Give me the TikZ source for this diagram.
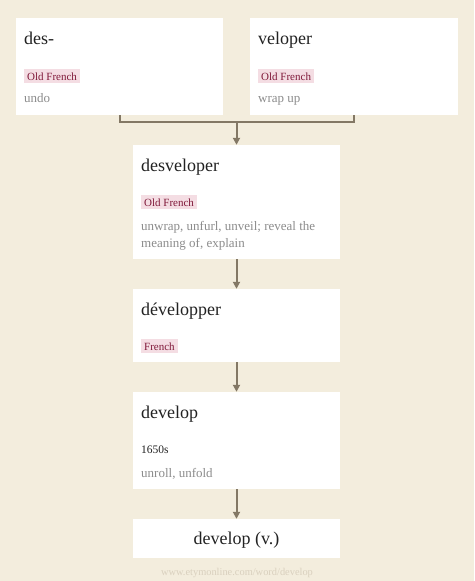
\documentclass[tikz,border=0pt]{standalone}
\usepackage{fontspec}
\setmainfont{Liberation Serif}
\usetikzlibrary{arrows.meta}
\definecolor{bg}{HTML}{F3EDDD}
\definecolor{linec}{HTML}{837865}
\definecolor{tagbg}{HTML}{F4DDE3}
\definecolor{tagfg}{HTML}{80193A}
\definecolor{gloss}{HTML}{8C8C8C}
\definecolor{titlec}{HTML}{222222}
\definecolor{urlc}{HTML}{D9D0BE}
\tikzset{
  box/.style={draw=none, fill=white, inner sep=0pt, anchor=center},
  ttl/.style={anchor=base west, inner sep=0pt, font=\fontsize{18}{20}\selectfont, text=titlec},
  tag/.style={anchor=base west, fill=tagbg, text=tagfg, inner xsep=3pt, inner ysep=0pt, text height=11pt, text depth=3pt, font=\fontsize{11}{13}\selectfont},
  gls/.style={anchor=base west, inner sep=0pt, text=gloss, font=\fontsize{13}{17}\selectfont},
  date/.style={anchor=base west, inner sep=0pt, text=titlec, font=\fontsize{11.5}{13}\selectfont},
  conn/.style={draw=linec, line width=2pt},
  arr/.style={conn, -{Triangle[length=7pt, width=7pt]}}
}
\begin{document}
\begin{tikzpicture}[x=1pt, y=-1pt]
\fill[bg] (0,0) rectangle (474,581);
\useasboundingbox (0,0) rectangle (474,581);
% boxes
\node[box, minimum width=207pt, minimum height=97pt] (des) at (119.5,66.5) {};
\node[box, minimum width=208pt, minimum height=97pt] (vel) at (354,66.5) {};
\node[box, minimum width=207pt, minimum height=114pt] (desv) at (236.5,202) {};
\node[box, minimum width=207pt, minimum height=73pt] (devf) at (236.5,325.5) {};
\node[box, minimum width=207pt, minimum height=97pt] (deve) at (236.5,440.5) {};
\node[box, minimum width=207pt, minimum height=39pt] (final) at (236.5,538.5) {};
% texts
\node[ttl] (t1) at (24,44) {des-};
\node[tag] (g1) at (24,80) {Old French};
\node[gls] (d1) at (24,102) {undo};
\node[ttl] (t2) at (258,44) {veloper};
\node[tag] (g2) at (258,80) {Old French};
\node[gls] (d2) at (258,102) {wrap up};
\node[ttl] (t3) at (141,171) {desveloper};
\node[tag] (g3) at (141,206) {Old French};
\node[gls] (d3a) at (141,230) {unwrap, unfurl, unveil; reveal the};
\node[gls] (d3b) at (141,247) {meaning of, explain};
\node[ttl] (t4) at (141,315) {développer};
\node[tag] (g4) at (141,350) {French};
\node[ttl] (t5) at (141,418) {develop};
\node[date] (y5) at (141,453) {1650s};
\node[gls] (d5) at (141,477) {unroll, unfold};
\node[anchor=base, inner sep=0pt, font=\fontsize{18}{20}\selectfont, text=titlec] (t6) at (236.5,544) {develop (v.)};
\node[anchor=base, inner sep=0pt, font=\fontsize{10.4}{12}\selectfont, text=urlc] (url) at (237,575) {www.etymonline.com/word/develop};
% connectors
\coordinate (j) at (236.5,122);
\draw[conn] (des.south) |- (j) -| (vel.south);
\draw[arr] (j) -- (desv.north);
\draw[arr] (desv.south) -- (devf.north);
\draw[arr] (devf.south) -- (deve.north);
\draw[arr] (deve.south) -- (final.north);
\end{tikzpicture}
\end{document}
